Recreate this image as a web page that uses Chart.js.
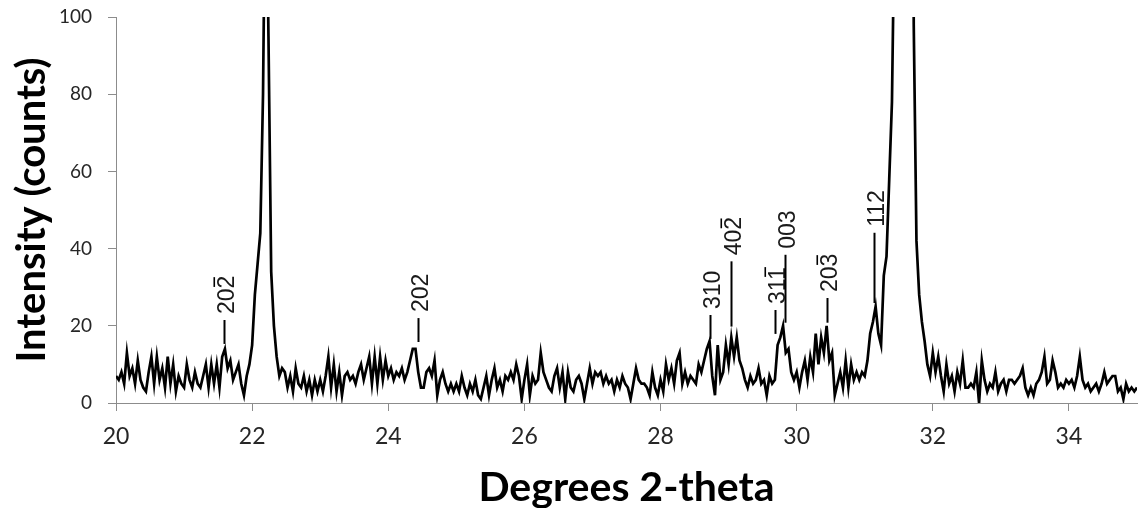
<!DOCTYPE html>
<html>
<head>
<meta charset="utf-8">
<title>XRD pattern</title>
<script src="https://cdn.jsdelivr.net/npm/chart.js@4.4.1/dist/chart.umd.min.js"></script>
<style>
  html, body { margin: 0; padding: 0; background: #fff; }
  canvas { display: block; }
</style>
</head>
<body>
<canvas id="xrd" width="1139" height="508"></canvas>
<script>
// scan grid (degrees 2-theta)
const START = 20;
const STEP = 0.04;

// counts, one row per degree (20.00 .. 35.00)
const intensity = [
  7, 6, 8, 5, 13, 7, 9, 5, 11, 6, 4, 3, 8, 12, 5, 12, 6, 9, 4, 12, 5, 10, 3, 7, 5,       // 20
  4, 10, 6, 4, 8, 5, 4, 7, 10, 4, 10, 5, 10, 4, 12, 14, 9, 11, 6, 8, 10, 5, 2, 7, 10,    // 21
  15, 28, 36, 44, 80, 150, 95, 34, 20, 12, 7, 9, 8, 4, 7, 3, 9, 5, 4, 7, 3, 6, 2, 6, 3,  // 22
  6, 3, 7, 12, 4, 10, 3, 8, 2, 7, 8, 6, 7, 5, 8, 10, 6, 9, 12, 5, 12, 5, 12, 6, 11,      // 23
  7, 9, 6, 8, 7, 9, 6, 8, 11, 14, 14, 8, 4, 4, 8, 9, 7, 11, 2, 6, 8, 5, 3, 5, 3,         // 24
  5, 3, 7, 4, 2, 5, 3, 6, 2, 1, 4, 7, 2, 6, 9, 4, 6, 3, 7, 6, 8, 6, 10, 7, 1,            // 25
  6, 10, 2, 7, 5, 6, 13, 8, 6, 4, 3, 7, 9, 4, 8, 1, 8, 4, 3, 6, 7, 5, 1, 5, 9,           // 26
  5, 8, 7, 8, 5, 7, 5, 6, 3, 6, 4, 7, 5, 4, 1, 5, 9, 6, 5, 5, 4, 2, 8, 4, 2,             // 27
  6, 3, 10, 6, 9, 5, 11, 13, 5, 8, 5, 7, 6, 5, 10, 8, 11, 14, 16, 7, 2, 15, 6, 8, 15,    // 28
  10, 17, 12, 17, 11, 9, 6, 4, 7, 5, 6, 9, 5, 6, 2, 7, 5, 6, 15, 17, 20, 13, 14, 8, 6,   // 29
  8, 4, 8, 11, 6, 12, 8, 18, 10, 17, 13, 20, 11, 13, 2, 5, 8, 4, 11, 4, 10, 6, 8, 6, 8,  // 30
  7, 11, 18, 21, 25, 18, 15, 33, 38, 58, 78, 130, 300, 450, 520, 480, 380, 250, 98, 42, 28, 21, 16, 10, 7, // 31
  13, 8, 12, 7, 3, 10, 5, 7, 3, 8, 5, 11, 4, 4, 5, 4, 8, 0, 11, 6, 3, 5, 4, 8, 3,        // 32
  5, 6, 3, 6, 6, 5, 6, 7, 9, 4, 2, 4, 2, 5, 6, 8, 12, 5, 6, 11, 8, 4, 5, 4, 6,           // 33
  5, 6, 4, 7, 12, 6, 4, 5, 3, 4, 5, 3, 5, 8, 5, 6, 7, 7, 3, 4, 1, 5, 3, 4, 3,            // 34
  4                                                                                     // 35
];

// reflection labels; peakBars = index of the digit that carries the overbar (-1 = none)
const peakNames = ['202', '202', '310', '402', '311', '003', '203', '112'];
const peakBars = [2, -1, -1, 2, 2, -1, 2, -1];
const peakX = [21.59, 24.43, 28.72, 29.03, 29.68, 29.83, 30.45, 31.13];
const markLow = [15.3, 15.8, 16.6, 19.8, 17.9, 20.8, 20.8, 25.9];
const markHigh = [21.5, 22.0, 22.8, 36.7, 24.1, 38.4, 27.2, 44.1];

const AXIS_GREY = '#8c8c8c';
const TEXT = '#262626';

const points = intensity.map((v, i) => ({ x: +(START + i * STEP).toFixed(2), y: v }));

const hklLabels = {
  id: 'hklLabels',
  afterDatasetsDraw(chart) {
    const { ctx, scales: { x, y } } = chart;
    const size = 23;
    const capH = size * 0.716;
    ctx.save();
    ctx.font = `${size}px "Liberation Sans", Arial, sans-serif`;
    ctx.fillStyle = '#1a1a1a';
    ctx.strokeStyle = '#000';
    peakX.forEach((v, i) => {
      const px = Math.round(x.getPixelForValue(v)) + 0.5;
      const y0 = y.getPixelForValue(markLow[i]);
      const y1 = y.getPixelForValue(markHigh[i]);
      ctx.lineWidth = 2;
      ctx.beginPath();
      ctx.moveTo(px, y0);
      ctx.lineTo(px, y1);
      ctx.stroke();

      ctx.save();
      ctx.translate(px + capH / 2 + 1.5, y1 - 6);
      ctx.rotate(-Math.PI / 2);
      ctx.textAlign = 'left';
      ctx.textBaseline = 'alphabetic';
      const name = peakNames[i];
      ctx.fillText(name, 0, 0);
      const b = peakBars[i];
      if (b >= 0) {
        const x0 = ctx.measureText(name.slice(0, b)).width;
        const w = ctx.measureText(name[b]).width;
        ctx.lineWidth = 1.6;
        ctx.beginPath();
        ctx.moveTo(x0 + 1.5, -capH - 3.5);
        ctx.lineTo(x0 + w - 1.5, -capH - 3.5);
        ctx.stroke();
      }
      ctx.restore();
    });
    ctx.restore();
  }
};

new Chart(document.getElementById('xrd'), {
  type: 'line',
  data: {
    datasets: [{
      data: points,
      borderColor: '#000',
      borderWidth: 2.7,
      pointRadius: 0,
      tension: 0,
      fill: false,
      clip: 0,
    }],
  },
  options: {
    responsive: false,
    animation: false,
    devicePixelRatio: 1,
    layout: { padding: { top: 17, right: 2, bottom: 0, left: 0 } },
    plugins: { legend: { display: false }, tooltip: { enabled: false } },
    scales: {
      x: {
        type: 'linear',
        min: 20,
        max: 35,
        border: { display: true, color: AXIS_GREY, width: 1 },
        grid: { display: true, drawOnChartArea: false, drawTicks: true, tickLength: 8, color: AXIS_GREY },
        ticks: {
          stepSize: 2,
          includeBounds: false,
          padding: 12,
          color: TEXT,
          font: { family: 'Lato', size: 23 },
          maxRotation: 0,
        },
        title: {
          display: true,
          text: 'Degrees 2-theta',
          color: '#000',
          font: { family: 'Lato', size: 41, weight: 'bold', lineHeight: 1 },
          padding: { top: 0, bottom: 0 },
        },
        afterFit(scale) {
          scale.height = 105;
          scale.paddingLeft = 0;
          scale.paddingRight = 0;
        },
      },
      y: {
        min: 0,
        max: 100,
        border: { display: true, color: AXIS_GREY, width: 1 },
        grid: { display: true, drawOnChartArea: false, drawTicks: true, tickLength: 8, color: AXIS_GREY },
        ticks: {
          stepSize: 20,
          padding: 16,
          color: TEXT,
          font: { family: 'Lato', size: 19 },
        },
        title: {
          display: true,
          text: 'Intensity (counts)',
          color: '#000',
          font: { family: 'Lato', size: 40, weight: 'bold', lineHeight: 1 },
          padding: { top: 12, bottom: 0 },
        },
        afterFit(scale) {
          scale.width = 116;
          scale.paddingTop = 0;
          scale.paddingBottom = 0;
        },
      },
    },
  },
  plugins: [hklLabels],
});
</script>
</body>
</html>
